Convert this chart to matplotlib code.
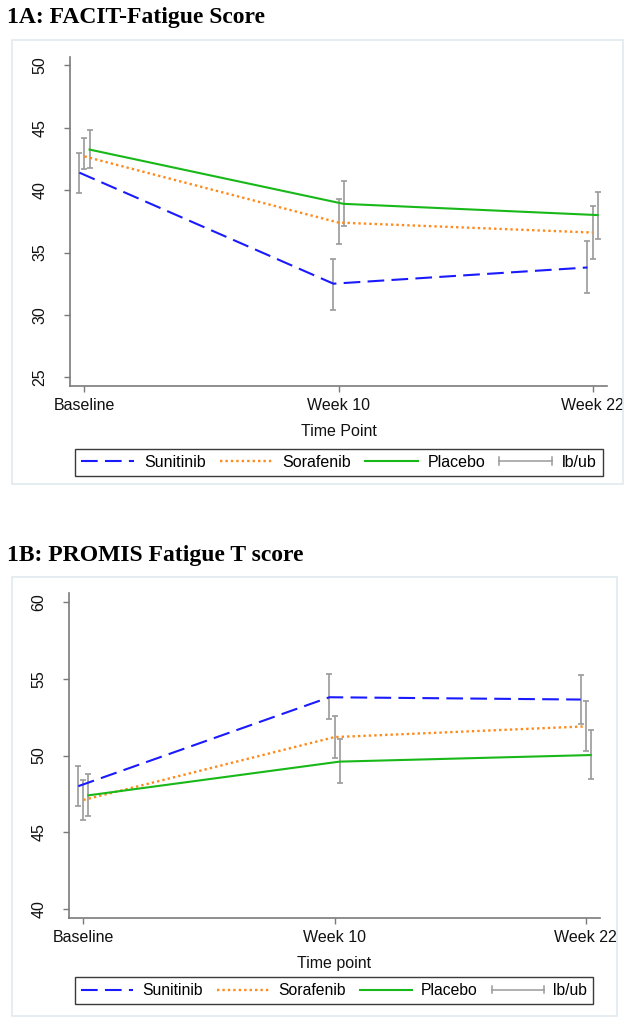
import matplotlib
matplotlib.use("Agg")
import matplotlib.pyplot as plt
from matplotlib.lines import Line2D
from matplotlib.patches import Rectangle
from matplotlib.legend_handler import HandlerBase

plt.rcParams['font.family'] = ['Liberation Sans', 'DejaVu Sans']

# ---- data ----
timepoints = ['Baseline', 'Week 10', 'Week 22']
groups = ['Sunitinib', 'Sorafenib', 'Placebo']

# 1A: FACIT-Fatigue
facit_mean = {'Sunitinib': [41.4, 32.5, 33.8],
              'Sorafenib': [42.7, 37.4, 36.6],
              'Placebo':   [43.25, 38.9, 38.0]}
facit_lb = {'Sunitinib': [39.8, 30.4, 31.75],
            'Sorafenib': [41.7, 35.65, 34.5],
            'Placebo':   [41.8, 37.1, 36.05]}
facit_ub = {'Sunitinib': [43.0, 34.5, 35.9],
            'Sorafenib': [44.2, 39.25, 38.7],
            'Placebo':   [44.8, 40.7, 39.85]}

# 1B: PROMIS Fatigue T score
promis_mean = {'Sunitinib': [48.0, 53.8, 53.65],
               'Sorafenib': [47.1, 51.2, 51.9],
               'Placebo':   [47.4, 49.6, 50.03]}
promis_lb = {'Sunitinib': [46.7, 52.37, 52.05],
             'Sorafenib': [45.8, 49.85, 50.3],
             'Placebo':   [46.05, 48.2, 48.46]}
promis_ub = {'Sunitinib': [49.3, 55.3, 55.25],
             'Sorafenib': [48.4, 52.6, 53.58],
             'Placebo':   [48.8, 51.1, 51.68]}

# ---- styles ----
colors = {'Sunitinib': '#1a1aff', 'Sorafenib': '#ff8a1c', 'Placebo': '#17b817'}
styles = {'Sunitinib': (0, (8, 3.5)), 'Sorafenib': (0, (1.0, 1.3)), 'Placebo': '-'}
offsets = {'Sunitinib': -0.02, 'Sorafenib': 0.0, 'Placebo': 0.02}
ci_color = '#9a9a9a'
axis_color = '#7a7a7a'

W, H = 633, 1026
fig = plt.figure(figsize=(W / 100, H / 100), dpi=100)


def fx(px):
    return px / W


def fy(py):
    return 1 - py / H


class HandlerCap(HandlerBase):
    # horizontal range cap, like stata's rcap legend key
    def create_artists(self, legend, orig_handle, xdescent, ydescent,
                       width, height, fontsize, trans):
        y = height / 2 - ydescent
        h = height * 0.35
        kw = dict(color=ci_color, lw=1.1, transform=trans)
        return [Line2D([-xdescent, width - xdescent], [y, y], **kw),
                Line2D([-xdescent, -xdescent], [y - h, y + h], **kw),
                Line2D([width - xdescent, width - xdescent], [y - h, y + h], **kw)]


def panel(box, ax_rect, title, title_y, means, lbs, ubs, yticks, ylim, xlabel,
          legend_center, legend_size):
    # light frame around the panel
    fig.patches.append(Rectangle((fx(box[0]), fy(box[3])), fx(box[2] - box[0]),
                                 (box[3] - box[1]) / H, transform=fig.transFigure,
                                 fill=False, ec='#e2eaee', lw=1.2))
    fig.text(fx(7), fy(title_y), title, fontsize=17, fontweight='bold',
             family='Liberation Serif', va='center', ha='left')

    ax = fig.add_axes([fx(ax_rect[0]), fy(ax_rect[3]),
                       fx(ax_rect[2] - ax_rect[0]), (ax_rect[3] - ax_rect[1]) / H])
    xs = range(len(timepoints))
    for g in groups:
        x = [i + offsets[g] for i in xs]
        m = means[g]
        err = [[a - b for a, b in zip(m, lbs[g])], [b - a for a, b in zip(m, ubs[g])]]
        ax.errorbar(x, m, yerr=err, fmt='none', ecolor=ci_color, elinewidth=1.2,
                    capsize=2.4, capthick=1.2, zorder=2)
    for g in groups:
        x = [i + offsets[g] for i in xs]
        lw = 1.7 if g == 'Sorafenib' else 1.5
        ax.plot(x, means[g], color=colors[g], ls=styles[g], lw=lw, zorder=3)

    ax.set_xlim(-0.057, 2.057)
    ax.set_ylim(*ylim)
    ax.set_xticks(list(xs))
    ax.set_xticklabels(timepoints)
    ax.set_yticks(yticks)
    for s in ['top', 'right']:
        ax.spines[s].set_visible(False)
    for s in ['left', 'bottom']:
        ax.spines[s].set_color(axis_color)
        ax.spines[s].set_linewidth(1.2)
    ax.tick_params(axis='both', colors=axis_color, length=4.3, width=1.0,
                   labelsize=11.5, labelcolor='#111111')
    ax.tick_params(axis='y', pad=12)
    ax.tick_params(axis='x', pad=4)
    for lab in ax.get_yticklabels():
        lab.set_rotation(90)
        lab.set_va('center')
    ax.set_xlabel(xlabel, fontsize=11.5, labelpad=8, color='#111111')

    handles = []
    for g in groups:
        lw = 1.7 if g == 'Sorafenib' else 1.5
        handles.append(Line2D([], [], color=colors[g], ls=styles[g], lw=lw))
    handles.append(Rectangle((0, 0), 1, 1))
    leg = fig.legend(handles, groups + ['lb/ub'], ncol=4, loc='center',
                     bbox_to_anchor=(fx(legend_center[0]), fy(legend_center[1])),
                     fontsize=legend_size, handlelength=3.3, handletextpad=0.6,
                     columnspacing=0.9, borderpad=0.4, fancybox=False,
                     framealpha=1, edgecolor='#3a3a3a',
                     handler_map={Rectangle: HandlerCap()})
    leg.get_frame().set_linewidth(1.0)
    return ax


panel(box=(12, 40, 623, 484), ax_rect=(70, 57, 607, 386),
      title='1A: FACIT-Fatigue Score', title_y=18,
      means=facit_mean, lbs=facit_lb, ubs=facit_ub,
      yticks=[25, 30, 35, 40, 45, 50], ylim=(24.3, 50.67),
      xlabel='Time Point', legend_center=(339, 462.5), legend_size=11.5)

panel(box=(12, 577, 617, 1016), ax_rect=(69, 593, 600, 918),
      title='1B: PROMIS Fatigue T score', title_y=555,
      means=promis_mean, lbs=promis_lb, ubs=promis_ub,
      yticks=[40, 45, 50, 55, 60], ylim=(39.4, 60.6),
      xlabel='Time point', legend_center=(334, 990.5), legend_size=11.3)

fig.savefig('out.png', dpi=100)
